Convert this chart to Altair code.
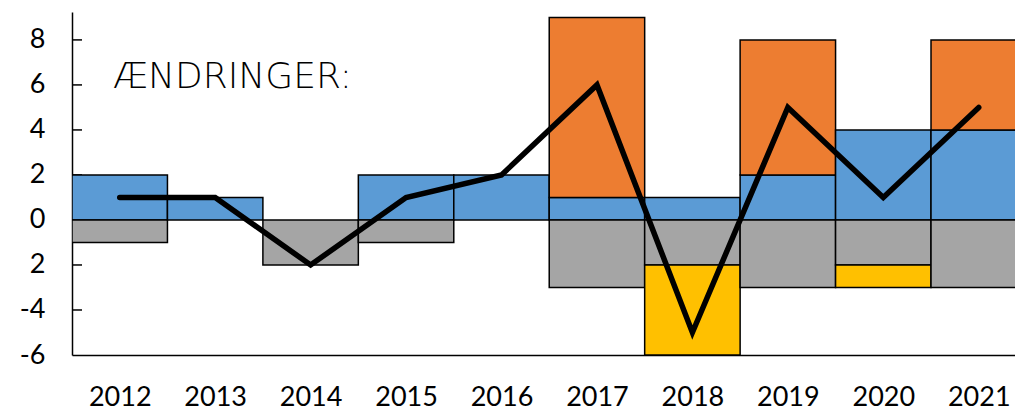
import altair as alt
import pandas as pd

years = [2012, 2013, 2014, 2015, 2016, 2017, 2018, 2019, 2020, 2021]
blue = [2, 1, 0, 2, 2, 1, 1, 2, 4, 4]
orange = [0, 0, 0, 0, 0, 8, 0, 6, 0, 4]
gray = [-1, 0, -2, -1, 0, -3, -2, -3, -2, -3]
yellow = [0, 0, 0, 0, 0, 0, -4, 0, -1, 0]
net = [1, 1, -2, 1, 2, 6, -5, 5, 1, 5]
y_ticks = [-6, -4, -2, 0, 2, 4, 6, 8]
inner_ticks = [-4, -2, 2, 4, 6, 8]

colors = {"blue": "#5B9BD5", "orange": "#ED7D31", "gray": "#A5A5A5", "yellow": "#FFC000"}

rows = []
for i, yr in enumerate(years):
    # positive stack: blue then orange
    rows.append(dict(year=yr, s="blue", lo=0, hi=blue[i]))
    rows.append(dict(year=yr, s="orange", lo=blue[i], hi=blue[i] + orange[i]))
    # negative stack: gray then yellow
    rows.append(dict(year=yr, s="gray", lo=gray[i], hi=0))
    rows.append(dict(year=yr, s="yellow", lo=gray[i] + yellow[i], hi=gray[i]))
bars = pd.DataFrame(rows)
bars = bars[bars.lo != bars.hi].copy()
bars["x0"] = bars.year - 0.5
bars["x1"] = bars.year + 0.5

line_df = pd.DataFrame({"year": years, "net": net})
tick_df = pd.DataFrame({"v": inner_ticks})

FONT = "Lato"
xscale = alt.Scale(domain=[2011.5, 2021.38], nice=False, zero=False)
yscale = alt.Scale(domain=[-6, 9.24], nice=False, zero=False)

yaxis = alt.Axis(values=y_ticks, tickSize=0, grid=False,
                 labelExpr="datum.value == -2 ? '2' : toString(datum.value)",
                 labelFontSize=27, labelFont=FONT, labelColor="black",
                 labelPadding=27, domainColor="black", domainWidth=1.5,
                 title=None)
xaxis = alt.Axis(values=years, format="d", tickSize=0, grid=False,
                 labelFontSize=27, labelFont=FONT, labelColor="black",
                 labelPadding=29, labelFlush=False, domainColor="black",
                 domainWidth=1.5, title=None)

ticks = alt.Chart(tick_df).mark_rule(color="black", strokeWidth=1.5).encode(
    y=alt.Y("v:Q", scale=yscale, axis=yaxis),
    x=alt.value(0), x2=alt.value(10),
)

rects = alt.Chart(bars).mark_rect(stroke="black", strokeWidth=1.5, clip=True).encode(
    x=alt.X("x0:Q", scale=xscale, axis=xaxis),
    x2="x1:Q",
    y=alt.Y("lo:Q", scale=yscale, axis=yaxis),
    y2="hi:Q",
    fill=alt.Fill("s:N", scale=alt.Scale(domain=list(colors.keys()),
                                         range=list(colors.values())), legend=None),
)

line = alt.Chart(line_df).mark_line(color="black", strokeWidth=5.5,
                                    strokeCap="round", strokeJoin="miter").encode(
    x=alt.X("year:Q", scale=xscale, axis=xaxis),
    y=alt.Y("net:Q", scale=yscale, axis=yaxis),
)

label = alt.Chart(pd.DataFrame({"t": ["ÆNDRINGER:"]})).mark_text(
    align="left", baseline="alphabetic", fontSize=36, font="DejaVu Sans",
    fontWeight=300, color="black"
).encode(text="t:N", x=alt.value(41), y=alt.value(76))

chart = alt.layer(ticks, rects, line, label).properties(
    width=943, height=343,
    autosize=alt.AutoSizeParams(type="none"),
    padding={"left": 64, "top": 4, "right": 0, "bottom": 56},
).configure_view(stroke=None)

chart.save("out.html", embed_options={"renderer": "svg", "actions": False})
